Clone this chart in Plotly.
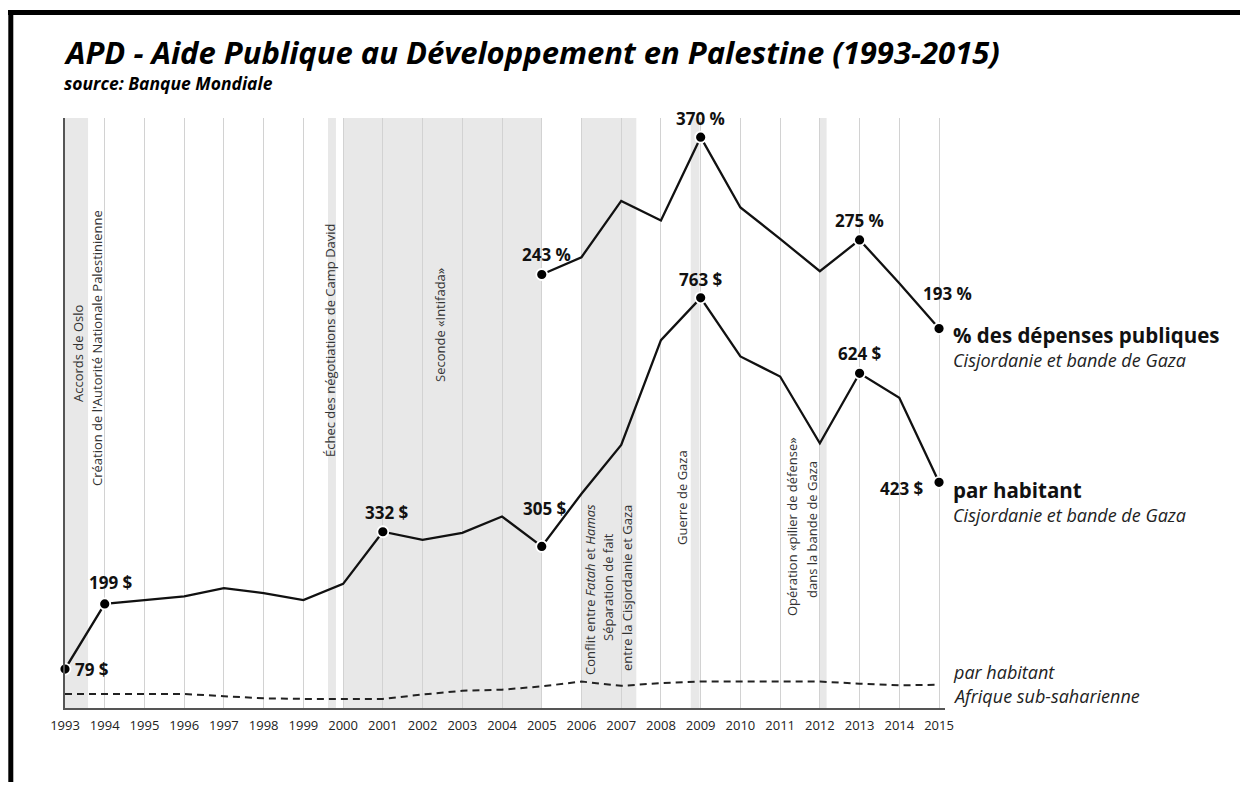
import plotly.graph_objects as go

# ---------------- data ----------------
years = list(range(1993, 2016))
tick_labels = [str(y) for y in years]

# APD par habitant, Cisjordanie et bande de Gaza (US $)
aid_per_capita = [79, 199, 206, 213, 228, 219, 206, 236, 332, 317, 330, 360,
                  305, 402, 492, 685, 763, 655, 618, 495, 624, 579, 423]

# APD en % des dépenses publiques (2005-2015)
pct_years = list(range(2005, 2016))
aid_pct_spending = [243, 259, 311, 293, 370, 305, 276, 246, 275, 235, 193]

# APD par habitant, Afrique sub-saharienne (US $)
ssa_per_capita = [33, 33, 33, 33, 29, 25, 24, 24, 24, 32, 39, 41,
                  47, 56, 48, 53, 56, 56, 56, 56, 52, 49, 50]

labelled_capita_years = [1993, 1994, 2001, 2005, 2009, 2013, 2015]
labelled_pct_years = [2005, 2009, 2013, 2015]

# shaded event periods (start, end) in years
event_periods = [(1993.0, 1993.58), (1999.62, 1999.82), (2000.0, 2005.0),
                 (2006.0, 2007.38), (2008.75, 2008.97), (2011.98, 2012.17)]

event_texts = [
    "Accords de Oslo",
    "Création de l'Autorité Nationale Palestinienne",
    "Échec des négotiations de Camp David",
    "Seconde «Intifada»",
    "Conflit entre <i>Fatah</i> et <i>Hamas</i>",
    "Séparation de fait",
    "entre la Cisjordanie et Gaza",
    "Guerre de Gaza",
    "Opération «pilier de défense»",
    "dans la bande de Gaza",
]

title_text = "APD - Aide Publique au Développement en Palestine (1993-2015)"
source_text = "source: Banque Mondiale"

# ---------------- layout helpers (page pixel -> paper) ----------------
PL, PR, PT, PB = 65, 945, 118, 708   # plot area in page pixels
OFF = 8                               # body margin of the html page
FIG_W, FIG_H = 1248 - 2 * OFF, 790 - 2 * OFF


def px(x):
    return (x - PL) / (PR - PL)


def py(y):
    return (PB - y) / (PB - PT)


FONT = "Open Sans"

fig = go.Figure()

# dashed Sub-Saharan Africa line
fig.add_trace(go.Scatter(x=years, y=ssa_per_capita, mode="lines",
                         line=dict(color="#222222", width=2, dash="7px,5px"),
                         hoverinfo="skip", showlegend=False))
# per capita line
fig.add_trace(go.Scatter(x=years, y=aid_per_capita, mode="lines",
                         line=dict(color="#111111", width=2.3),
                         hoverinfo="skip", showlegend=False))
# % line
fig.add_trace(go.Scatter(x=pct_years, y=aid_pct_spending, mode="lines", yaxis="y2",
                         line=dict(color="#111111", width=2.3),
                         hoverinfo="skip", showlegend=False))

cap_y = [aid_per_capita[years.index(y)] for y in labelled_capita_years]
pct_y = [aid_pct_spending[pct_years.index(y)] for y in labelled_pct_years]
marker_style = dict(size=11, color="#000000", line=dict(color="white", width=1.8))
fig.add_trace(go.Scatter(x=labelled_capita_years, y=cap_y, mode="markers",
                         marker=marker_style, cliponaxis=False,
                         hoverinfo="skip", showlegend=False))
fig.add_trace(go.Scatter(x=labelled_pct_years, y=pct_y, mode="markers", yaxis="y2",
                         marker=marker_style, cliponaxis=False,
                         hoverinfo="skip", showlegend=False))

shapes = []
for (a, b) in event_periods:
    shapes.append(dict(type="rect", xref="x", yref="paper", x0=a, x1=b, y0=0, y1=1,
                       fillcolor="#e8e8e8", line=dict(width=0), layer="below"))
# black frame (top + left)
shapes.append(dict(type="line", xref="paper", yref="paper",
                   x0=px(8), x1=px(1248), y0=py(12.5), y1=py(12.5),
                   line=dict(color="black", width=5)))
shapes.append(dict(type="line", xref="paper", yref="paper",
                   x0=px(10.8), x1=px(10.8), y0=py(10), y1=py(790),
                   line=dict(color="black", width=5)))

annotations = []


def page_ann(text, x, y, size, color="#111111", weight="normal", style="normal",
             xanchor="left", yanchor="middle", angle=0):
    annotations.append(dict(text=text, xref="paper", yref="paper", x=px(x), y=py(y),
                            xanchor=xanchor, yanchor=yanchor, showarrow=False,
                            textangle=angle,
                            font=dict(family=FONT, size=size, color=color,
                                      weight=weight, style=style)))


page_ann(title_text, 62, 52, 31, color="#000000", weight="bold", style="italic")
page_ann(source_text, 62, 83, 17.5, color="#000000", weight="bold", style="italic")

# vertical event labels
event_pos = [(78, 353), (97, 348), (330, 340), (440, 325), (590, 590), (608, 587),
             (627, 588), (682, 498), (792, 527), (812, 530)]
for t, (x, y) in zip(event_texts, event_pos):
    page_ann(t, x, y, 13, color="#333333", xanchor="center", angle=-90)

# value labels
cap_offsets = {1993: ("left", 8, 0), 1994: ("center", 6, 21), 2001: ("center", 4, 19),
               2005: ("center", 3, 38), 2009: ("center", 0, 18), 2013: ("center", 0, 20),
               2015: ("right", -13, -6)}
for yr, v in zip(labelled_capita_years, cap_y):
    xa, dx, dy = cap_offsets[yr]
    annotations.append(dict(text=f"{v} $", x=yr, y=v, xref="x", yref="y",
                            xanchor=xa, yanchor="middle", xshift=dx, yshift=dy,
                            showarrow=False,
                            font=dict(family=FONT, size=17, color="#111111", weight="bold")))
pct_offsets = {2005: ("center", 5, 20), 2009: ("center", 0, 19), 2013: ("center", 0, 19),
               2015: ("center", 8, 35)}
for yr, v in zip(labelled_pct_years, pct_y):
    xa, dx, dy = pct_offsets[yr]
    annotations.append(dict(text=f"{v} %", x=yr, y=v, xref="x", yref="y2",
                            xanchor=xa, yanchor="middle", xshift=dx, yshift=dy,
                            showarrow=False,
                            font=dict(family=FONT, size=17, color="#111111", weight="bold")))

# series labels on the right
page_ann("% des dépenses publiques", 951, 335, 20.5, weight="bold")
page_ann("Cisjordanie et bande de Gaza", 951, 360, 18, style="italic", color="#222222")
page_ann("par habitant", 951, 490, 20.5, weight="bold")
page_ann("Cisjordanie et bande de Gaza", 951, 515, 18, style="italic", color="#222222")
page_ann("par habitant", 951, 672, 18, style="italic", color="#222222")
page_ann("Afrique sub-saharienne", 951, 696, 18, style="italic", color="#222222")

fig.update_layout(
    width=FIG_W, height=FIG_H,
    margin=dict(l=PL - OFF, r=FIG_W - (PR - OFF), t=PT - OFF, b=FIG_H - (PB - OFF), pad=0),
    paper_bgcolor="white", plot_bgcolor="white",
    showlegend=False,
    shapes=shapes, annotations=annotations,
    xaxis=dict(range=[1993, 2015.15], tickvals=years, ticktext=tick_labels,
               showgrid=True, gridcolor="#d2d2d2", gridwidth=1,
               showline=True, linecolor="#555555", linewidth=1.5,
               ticks="outside", ticklen=5, tickcolor="rgba(0,0,0,0)",
               tickfont=dict(family=FONT, size=13, color="#222222"),
               zeroline=False, fixedrange=True),
    yaxis=dict(range=[7.2, 1094.4], showgrid=False, zeroline=False,
               showticklabels=False, ticks="", showline=True,
               linecolor="#555555", linewidth=1.5, fixedrange=True),
    yaxis2=dict(range=[-157.8, 387.7], overlaying="y", visible=False,
                fixedrange=True),
)

fig.write_html("out.html")
